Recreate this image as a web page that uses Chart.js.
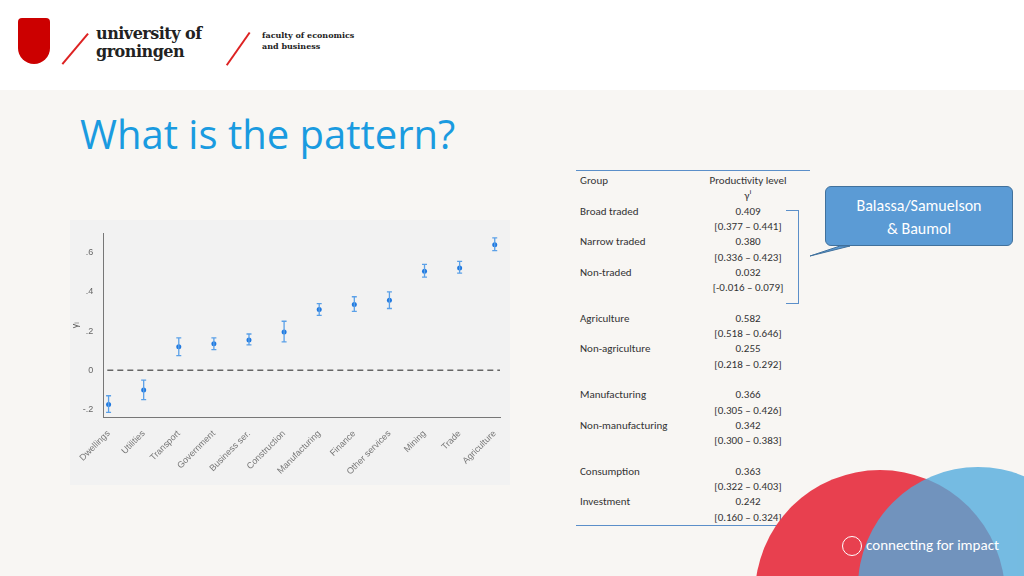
<!DOCTYPE html><html><head><meta charset="utf-8">
<script src="https://cdn.jsdelivr.net/npm/chart.js@4"></script>
<style>
body{margin:0;width:1024px;height:576px;overflow:hidden;position:relative;font-family:Calibri,"Liberation Sans",Carlito,sans-serif;background:#f8f6f3}
#hdr{position:absolute;left:0;top:0;width:1024px;height:90px;background:#fff}
.circ{position:absolute;border-radius:50%}
#tbl{position:absolute;left:576px;top:170px;width:234px;font-size:11px;color:#333;border-top:1px solid #5b8fc9;border-bottom:1px solid #5b8fc9}
#tbl div{position:absolute;white-space:nowrap}
</style></head><body>
<div id="hdr">
 <div style="position:absolute;left:18px;top:18px;width:32px;height:46px;background:#cc0000;border-radius:4px 4px 16px 16px"></div>
 <div style="position:absolute;left:55px;top:48px;width:40px;height:1.5px;background:#d22;transform:rotate(-50deg)"></div>
 <div style="position:absolute;left:96px;top:25px;font:bold 16px 'DejaVu Serif',serif;color:#222;line-height:18px;letter-spacing:-0.5px">university of<br>groningen</div>
 <div style="position:absolute;left:218px;top:48px;width:40px;height:1.5px;background:#d22;transform:rotate(-55deg)"></div>
 <div style="position:absolute;left:262px;top:30px;font:bold 8px 'DejaVu Serif',serif;color:#222;line-height:11px">faculty of economics<br>and business</div>
</div>
<div style="position:absolute;left:80px;top:106px;font-size:40px;color:#1a9be0;font-family:'Open Sans',sans-serif">What is the pattern?</div>
<div style="position:absolute;left:70px;top:220px;width:440px;height:265px;background:#f2f2f2"><canvas id="c" width="440" height="265"></canvas></div>
<div id="tbl" style="height:354px"></div>
<div style="position:absolute;left:786px;top:210px;width:12px;height:92px;border:1px solid #5b8fc9;border-left:none"></div>
<div style="position:absolute;left:825px;top:186px;width:188px;height:60px;background:#5b9bd5;border:1px solid #41719c;border-radius:6px;color:#fff;font-size:16px;text-align:center;line-height:23px;padding-top:7px;box-sizing:border-box">Balassa/Samuelson<br>&amp; Baumol</div>
<svg style="position:absolute;left:800px;top:230px" width="60" height="30"><polygon points="10,26 40,16 50,16" fill="#5b9bd5" stroke="#41719c"/></svg>
<div class="circ" style="left:755px;top:470px;width:250px;height:250px;background:#e8404f"></div>
<div class="circ" style="left:858px;top:467px;width:240px;height:240px;background:rgba(80,170,220,0.78)"></div>
<div style="position:absolute;left:842px;top:536px;width:18px;height:18px;border:1.5px solid #fff;border-radius:50%"></div>
<div style="position:absolute;left:866px;top:536px;color:#fff;font-size:15px">connecting for impact</div>
<script>
const categories=["Dwellings","Utilities","Transport","Government","Business ser.","Construction","Manufacturing","Finance","Other services","Mining","Trade","Agriculture"];
const estimates=[-0.175,-0.1,0.12,0.135,0.155,0.195,0.31,0.335,0.357,0.505,0.522,0.64];
const lower=[-0.215,-0.15,0.075,0.105,0.13,0.145,0.28,0.3,0.315,0.475,0.495,0.61];
const upper=[-0.13,-0.05,0.165,0.165,0.185,0.25,0.34,0.375,0.4,0.54,0.555,0.675];
const tableRows=[["Group","Productivity level"],["","γⁱ"],["Broad traded","0.409"],["","[0.377 – 0.441]"],["Narrow traded","0.380"],["","[0.336 – 0.423]"],["Non-traded","0.032"],["","[-0.016 – 0.079]"],null,["Agriculture","0.582"],["","[0.518 – 0.646]"],["Non-agriculture","0.255"],["","[0.218 – 0.292]"],null,["Manufacturing","0.366"],["","[0.305 – 0.426]"],["Non-manufacturing","0.342"],["","[0.300 – 0.383]"],null,["Consumption","0.363"],["","[0.322 – 0.403]"],["Investment","0.242"],["","[0.160 – 0.324]"]];
const tb=document.getElementById('tbl');
tableRows.forEach((r,i)=>{if(!r)return;const y=3+i*15.3;
 const a=document.createElement('div');a.style.left='4px';a.style.top=y+'px';a.textContent=r[0];tb.appendChild(a);
 const b=document.createElement('div');b.style.left='172px';b.style.width='0';b.style.top=y+'px';
 const s=document.createElement('span');s.style.cssText='position:absolute;transform:translateX(-50%)';s.textContent=r[1];b.appendChild(s);tb.appendChild(b);});
const eb={id:'eb',afterDatasetsDraw(ch){const c=ch.ctx,x=ch.scales.x,y=ch.scales.y;
 c.save();c.setLineDash([6,4]);c.strokeStyle='#666';c.lineWidth=1.5;c.beginPath();c.moveTo(ch.chartArea.left+4,y.getPixelForValue(0));c.lineTo(ch.chartArea.right,y.getPixelForValue(0));c.stroke();
 c.setLineDash([]);c.strokeStyle='#5aa0e8';c.lineWidth=1.3;
 categories.forEach((k,i)=>{const px=x.getPixelForValue(i),a=y.getPixelForValue(lower[i]),b=y.getPixelForValue(upper[i]);
  c.beginPath();c.moveTo(px,a);c.lineTo(px,b);c.moveTo(px-2.5,a);c.lineTo(px+2.5,a);c.moveTo(px-2.5,b);c.lineTo(px+2.5,b);c.stroke();});
 c.restore();}};
new Chart(document.getElementById('c'),{type:'scatter',data:{labels:categories,datasets:[{data:estimates.map((v,i)=>({x:i,y:v})),backgroundColor:'#1e78e0',pointRadius:2.5,borderWidth:0}]},
plugins:[eb],
options:{responsive:false,animation:false,devicePixelRatio:1,layout:{padding:{top:13,right:10,left:0,bottom:5}},
plugins:{legend:{display:false},tooltip:{enabled:false}},
scales:{x:{type:'linear',min:-0.15,max:11.15,grid:{display:false},border:{color:'#777'},
 afterBuildTicks(s){s.ticks=categories.map((_,i)=>({value:i}));},
 ticks:{callback:(v)=>categories[v],minRotation:45,maxRotation:45,color:'#777',font:{size:9},autoSkip:false}},
 y:{min:-0.24,max:0.7,grid:{display:false},border:{color:'#777'},title:{display:true,text:'γᵢ',color:'#555',font:{size:9},padding:0},
 afterBuildTicks(s){s.ticks=[-0.2,0,0.2,0.4,0.6].map(v=>({value:v}));},
 ticks:{color:'#666',font:{size:9},padding:2,callback:v=>v===0?'0':(v<0?'-'+String(Math.abs(v).toFixed(1)).replace('0.','.'):v.toFixed(1).replace('0.','.'))}}}}});
</script>
</body></html>
